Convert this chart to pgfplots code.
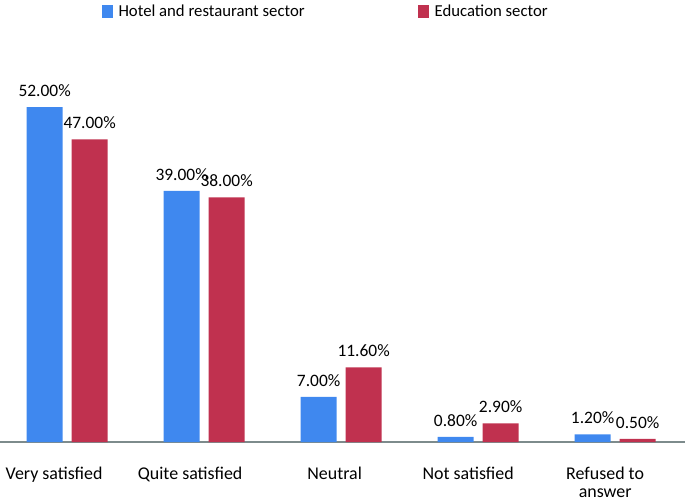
\documentclass[border=0pt]{standalone}
\usepackage{fontspec}
\setmainfont{Carlito}
\usepackage{pgfplots}
\pgfplotsset{compat=1.18}
\definecolor{hblue}{HTML}{3F88EF}
\definecolor{ered}{HTML}{C0314F}
\definecolor{axgray}{HTML}{7D8B8C}
\begin{document}
\begin{tikzpicture}
\begin{axis}[name=ax, scale only axis, width=685bp, height=386.4bp,
  xmin=-0.49, xmax=4.51, ymin=0, ymax=60,
  ybar=9bp, bar width=36bp,
  axis y line=none, axis x line=bottom,
  x axis line style={-, draw=axgray, line width=2bp},
  xtick={0,1,2,3,4},
  xticklabels={\hspace*{-6bp}Very satisfied, \hspace*{-8bp}Quite satisfied, \hspace*{7bp}Neutral, Not satisfied, {Refused to\\answer}},
  major tick length=0pt,
  xticklabel style={font=\fontsize{18}{18.5}\selectfont, align=center, xshift=-10bp, yshift=-21.5bp},
  /pgf/number format/assume math mode=true,
  nodes near coords={\pgfmathprintnumber[fixed,fixed zerofill,precision=2]{\pgfplotspointmeta}\%},
  every node near coord/.append style={font=\fontsize{17.5}{18}\selectfont, text=black, anchor=south, inner sep=0pt, yshift=10bp},
  legend style={at={(0.148,1.138)}, anchor=north west, draw=none, fill=none, inner sep=0pt,
    font=\fontsize{16.8}{18}\selectfont, legend columns=2,
    /tikz/every even column/.append style={column sep=111bp}},
  legend image code/.code={\fill[#1] (0bp,-7bp) rectangle (11bp,6bp); \path (15bp,0bp);},
]
\addplot[fill=hblue, draw=none] coordinates {(0,52) (1,39) (2,7) (3,0.8) (4,1.2)};
\addlegendentry{Hotel and restaurant sector}
\addplot[fill=ered, draw=none] coordinates {(0,47) (1,38) (2,11.6) (3,2.9) (4,0.5)};
\addlegendentry{Education sector}
\end{axis}
\pgfresetboundingbox
\path ([yshift=-60bp]ax.south west) rectangle ([yshift=442bp, xshift=685bp]ax.south west);
\end{tikzpicture}
\end{document}
